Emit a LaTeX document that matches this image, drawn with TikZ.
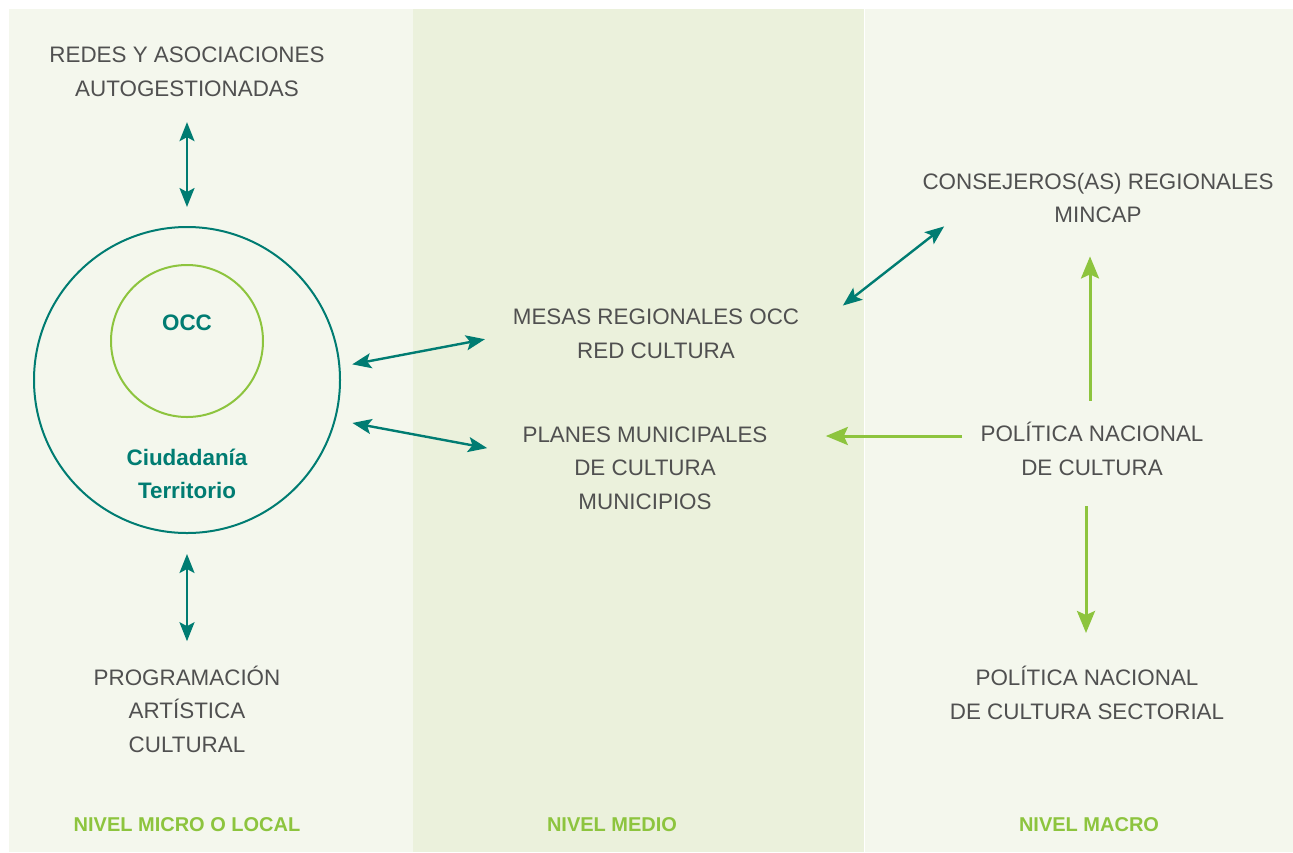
\documentclass[tikz,border=0pt]{standalone}
\usepackage{fontspec}
\setmainfont{Liberation Sans}
\usetikzlibrary{arrows.meta}
\definecolor{occteal}{RGB}{0,124,114}
\definecolor{occgreen}{RGB}{141,196,62}
\definecolor{occgray}{RGB}{80,80,80}
\definecolor{panellight}{RGB}{244,247,237}
\definecolor{panelmid}{RGB}{235,241,220}

\begin{document}
\begin{tikzpicture}[x=0.5pt, y=-0.5pt,
	txt/.style={align=center, inner sep=0pt, text=occgray, font=\fontsize{11.2}{16.8}\selectfont},
	tealtxt/.style={align=center, inner sep=0pt, text=occteal, font=\fontsize{11.2}{16.5}\selectfont\bfseries},
	lvl/.style={inner sep=0pt, text=occgreen, font=\fontsize{10}{12}\selectfont\bfseries},
	tl/.style={{Stealth[length=9.5pt, width=7.5pt, inset=2pt]}-{Stealth[length=9.5pt, width=7.5pt, inset=2pt]}, occteal, line width=1.2pt},
	gr/.style={-{Stealth[length=11pt, width=9pt, inset=2pt]}, occgreen, line width=1.5pt}]
					\useasboundingbox (0,0) rectangle (1293,852);
					\fill[white] (0,0) rectangle (1293,852);
					\fill[panellight] (9,9) rectangle (413,852);
					\fill[panelmid] (413,9) rectangle (864,852);
					\fill[panellight] (865,9) rectangle (1293,852);
					\node (redes)  at (187,72)   [txt] {REDES Y ASOCIACIONES\\AUTOGESTIONADAS};
					\node (ciud)   at (187,380)  [draw=occteal, line width=1pt, circle, minimum size=153pt] {};
					\node (occ)    at (187,341)  [draw=occgreen, line width=1pt, circle, minimum size=76pt] {};
					\node (occlbl) at (187,323)  [tealtxt] {OCC};
					\node (terr)   at (187,474)  [tealtxt] {Ciudadanía\\Territorio};
					\node (prog)   at (187,709)  [txt] {PROGRAMACIÓN\\ARTÍSTICA\\CULTURAL};
					\node (mesas)  at (656,334)  [txt] {MESAS REGIONALES OCC\\RED CULTURA};
					\node (planes) at (645,468)  [txt] {PLANES MUNICIPALES\\DE CULTURA\\MUNICIPIOS};
					\node (consej) at (1098,198) [txt] {CONSEJEROS(AS) REGIONALES\\MINCAP};
					\node (polit)  at (1092,449) [txt] {POLÍTICA NACIONAL\\DE CULTURA};
					\node (sector) at (1087,693) [txt] {POLÍTICA NACIONAL\\DE CULTURA SECTORIAL};
					\node (micro)  at (187,825)  [lvl] {NIVEL MICRO O LOCAL};
					\node (medio)  at (612,825)  [lvl] {NIVEL MEDIO};
					\node (macro)  at (1089,825) [lvl] {NIVEL MACRO};
					% Draw the arrows between the nodes
					\draw[tl, shorten <=12.5pt, shorten >=9.5pt] (redes.south) -- (ciud.north);
					\draw[tl, shorten <=10pt, shorten >=12pt] (ciud.south) -- (prog.north);
					\draw[tl, shorten <=6pt, shorten >=14pt] (ciud.5) -- (mesas.west);
					\draw[tl, shorten <=8.5pt, shorten >=17.8pt] (ciud.-15) -- ([yshift=6.7pt]planes.west);
					\draw[tl, shorten <=27.5pt] ([yshift=-2.7pt]mesas.east) -- ([xshift=11pt, yshift=-1.5pt]consej.south west);
					\draw[gr, shorten <=10.5pt, shorten >=16.5pt] ([xshift=-1pt]polit.north) -- ([xshift=-1pt]polit.north |- consej.south);
					\draw[gr, shorten <=9pt, shorten >=29pt] ([yshift=6.5pt]polit.west) -- ([yshift=6.5pt]polit.west -| planes.east);
					\draw[gr, shorten <=15pt, shorten >=16.5pt] ([xshift=-3pt]polit.south) -- ([xshift=-3pt]polit.south |- sector.north);
				\end{tikzpicture}
\end{document}
